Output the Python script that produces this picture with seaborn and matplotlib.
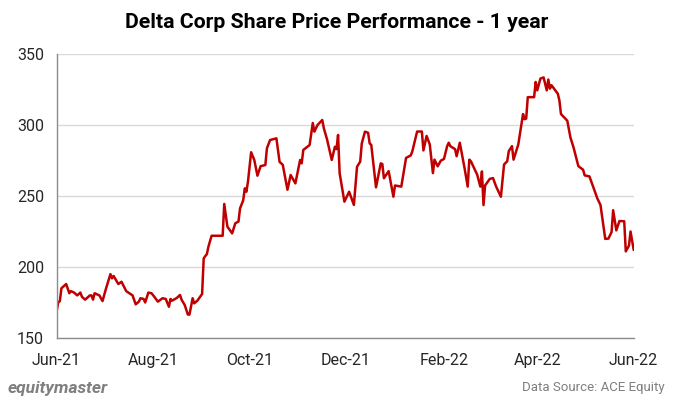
import matplotlib
matplotlib.use("Agg")
import matplotlib.pyplot as plt
import matplotlib.dates as mdates
import seaborn as sns
import pandas as pd

# Delta Corp closing price (approx.)
dates = [
    "2021-06-01", "2021-06-02", "2021-06-03", "2021-06-04", "2021-06-07", "2021-06-09",
    "2021-06-10", "2021-06-12", "2021-06-14", "2021-06-16", "2021-06-17", "2021-06-19",
    "2021-06-22", "2021-06-23", "2021-06-24", "2021-06-25", "2021-06-28", "2021-06-30",
    "2021-07-02", "2021-07-05", "2021-07-06", "2021-07-07", "2021-07-10", "2021-07-12",
    "2021-07-15", "2021-07-17", "2021-07-19", "2021-07-21", "2021-07-23", "2021-07-24",
    "2021-07-26", "2021-07-27", "2021-07-29", "2021-07-31", "2021-08-02", "2021-08-04",
    "2021-08-07", "2021-08-09", "2021-08-11", "2021-08-12", "2021-08-13", "2021-08-16",
    "2021-08-18", "2021-08-19", "2021-08-21", "2021-08-23", "2021-08-24", "2021-08-26",
    "2021-08-27", "2021-08-29", "2021-09-01", "2021-09-02", "2021-09-03", "2021-09-04",
    "2021-09-05", "2021-09-07", "2021-09-14", "2021-09-15", "2021-09-17", "2021-09-20",
    "2021-09-22", "2021-09-24", "2021-09-25", "2021-09-27", "2021-09-28", "2021-09-29",
    "2021-09-30", "2021-10-02", "2021-10-04", "2021-10-06", "2021-10-08", "2021-10-11",
    "2021-10-12", "2021-10-14", "2021-10-18", "2021-10-20", "2021-10-22", "2021-10-25",
    "2021-10-27", "2021-10-30", "2021-11-02", "2021-11-03", "2021-11-04", "2021-11-08",
    "2021-11-10", "2021-11-11", "2021-11-13", "2021-11-16", "2021-11-17", "2021-11-19",
    "2021-11-22", "2021-11-24", "2021-11-25", "2021-11-26", "2021-11-27", "2021-11-30",
    "2021-12-03", "2021-12-06", "2021-12-08", "2021-12-10", "2021-12-11", "2021-12-13",
    "2021-12-15", "2021-12-16", "2021-12-17", "2021-12-20", "2021-12-23", "2021-12-24",
    "2021-12-25", "2021-12-28", "2021-12-31", "2022-01-01", "2022-01-05", "2022-01-08",
    "2022-01-11", "2022-01-12", "2022-01-14", "2022-01-15", "2022-01-18", "2022-01-19",
    "2022-01-21", "2022-01-23", "2022-01-25", "2022-01-26", "2022-01-28", "2022-01-30",
    "2022-02-01", "2022-02-03", "2022-02-04", "2022-02-05", "2022-02-08", "2022-02-09",
    "2022-02-11", "2022-02-14", "2022-02-16", "2022-02-17", "2022-02-18", "2022-02-22",
    "2022-02-24", "2022-02-25", "2022-02-26", "2022-02-27", "2022-03-02", "2022-03-04",
    "2022-03-06", "2022-03-09", "2022-03-11", "2022-03-13", "2022-03-14", "2022-03-16",
    "2022-03-17", "2022-03-20", "2022-03-23", "2022-03-24", "2022-03-25", "2022-03-26",
    "2022-03-30", "2022-03-31", "2022-04-01", "2022-04-03", "2022-04-05", "2022-04-07",
    "2022-04-08", "2022-04-09", "2022-04-10", "2022-04-14", "2022-04-15", "2022-04-16",
    "2022-04-20", "2022-04-22", "2022-04-23", "2022-04-24", "2022-04-27", "2022-04-30",
    "2022-05-01", "2022-05-04", "2022-05-09", "2022-05-11", "2022-05-14", "2022-05-16",
    "2022-05-18", "2022-05-19", "2022-05-21", "2022-05-23", "2022-05-26", "2022-05-27",
    "2022-05-29", "2022-05-30", "2022-06-01",
]
prices = [
    169, 175, 176, 185, 188, 181.5,
    183, 182, 180, 182, 179, 177,
    180, 180, 177, 181.5, 180, 176,
    184, 195, 192, 193.7, 188, 189.6,
    183, 181.5, 180, 173.7, 175.6, 178,
    177.5, 175, 182, 181.5, 178.7, 175.6,
    178, 177.5, 172, 177.5, 176.3, 178.2,
    180.3, 177, 173.2, 166.5, 166.5, 178,
    174.4, 176.3, 181, 206, 207.7, 209,
    214.3, 222, 222, 244.4, 228.4, 223.7,
    230.8, 232, 241.3, 247, 255.4, 253,
    260, 280.8, 275.4, 264.3, 271, 271.8,
    283.6, 289.4, 290.6, 274, 272, 254.4,
    264.8, 258.9, 275.4, 273, 282.4, 285.9,
    301.4, 295.3, 300, 303.5, 297.7, 290,
    275.4, 284.7, 283, 293, 266, 246,
    253, 243.7, 270.6, 274.2, 287, 295.3,
    294.5, 287, 286, 256.1, 273, 272.5,
    262.5, 267.5, 249.5, 257.4, 256.6, 276.8,
    278.6, 281.6, 290.7, 295.4, 295.4, 282.1,
    292.3, 286.3, 266.1, 275.6, 270.9, 274.9,
    276.1, 285.1, 287.5, 285.1, 283, 278,
    287.5, 269.7, 256.6, 275.6, 274.5, 265,
    256.6, 267.3, 243.6, 257.4, 262.1, 262.6,
    256.6, 249.5, 272.2, 274.5, 281.6, 285.1,
    275.6, 286.3, 307.7, 304.1, 304.5, 319.6,
    319.6, 330.3, 324.4, 332.7, 333.5, 324.4,
    332, 325.6, 328, 322, 317.3, 307.7,
    303, 291.1, 287.5, 284, 271, 268.5,
    264.5, 263.8, 248.3, 243.6, 219.8, 220,
    224.6, 240, 225.8, 232.4, 232.2, 211,
    215, 225, 212,
]

title = "Delta Corp Share Price Performance - 1 year"
y_ticks = [150, 200, 250, 300, 350]
x_start, x_end = "2021-06-01", "2022-06-01"

df = pd.DataFrame({"date": pd.to_datetime(dates), "price": prices})

sns.set_theme(style="white")
plt.rcParams["font.family"] = ["Roboto", "DejaVu Sans"]

fig = plt.figure(figsize=(6.73, 4.09), dpi=100)
ax = fig.add_axes([0.0842, 0.1736, 0.8574, 0.6944])

sns.lineplot(data=df, x="date", y="price", ax=ax, color="#C00000", linewidth=1.8)

ax.set_xlim(pd.Timestamp(x_start), pd.Timestamp(x_end))
ax.set_ylim(y_ticks[0], y_ticks[-1])
ax.set_yticks(y_ticks)
ax.xaxis.set_major_locator(mdates.MonthLocator(bymonth=[2, 4, 6, 8, 10, 12], bymonthday=1))
ax.xaxis.set_major_formatter(mdates.DateFormatter("%b-%y"))

ax.grid(axis="y", color="#d9d9d9", linewidth=1)
ax.set_axisbelow(True)
ax.set_xlabel("")
ax.set_ylabel("")

for side in ["top", "right"]:
    ax.spines[side].set_visible(False)
for side in ["left", "bottom"]:
    ax.spines[side].set_color("#8c8c8c")
    ax.spines[side].set_linewidth(1)

ax.tick_params(axis="both", which="major", labelsize=11.5, labelcolor="#262626",
               color="#8c8c8c", length=5, width=1, direction="out")
ax.tick_params(axis="x", pad=6)
ax.tick_params(axis="y", pad=4)

fig.text(0.5, 1 - 22 / 409, title, ha="center", va="center",
         fontsize=15.3, fontweight="bold", color="#000000")
fig.text(8 / 673, 1 - 388 / 409, "equitymaster", ha="left", va="center",
         fontsize=12.5, fontstyle="italic", fontweight="bold", color="#7f7f7f")
fig.text(665 / 673, 1 - 388 / 409, "Data Source: ACE Equity", ha="right", va="center",
         fontsize=9.5, color="#7f7f7f")

fig.savefig("out.png", dpi=100)
